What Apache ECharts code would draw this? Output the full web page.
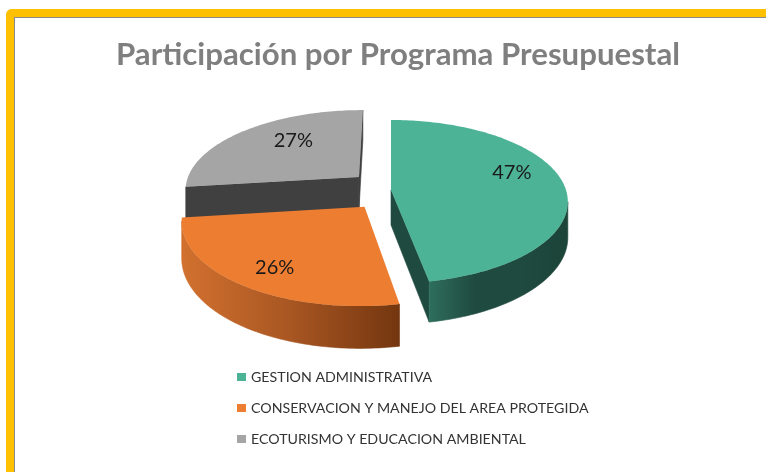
<!DOCTYPE html>
<html>
<head>
<meta charset="utf-8">
<script src="https://cdn.jsdelivr.net/npm/echarts@6/dist/echarts.min.js"></script>
<style>
body{margin:0;background:#fff;}
.frame{position:absolute;left:6px;top:9px;width:760px;height:463px;box-sizing:border-box;
  border-left:8px solid #ffc000;border-top:8px solid #ffc000;border-top-left-radius:6px;}
.frame .line{position:absolute;left:0;top:0;right:0;bottom:0;border-left:1px solid #8a8a8a;border-top:1px solid #8a8a8a;}
#chart{position:absolute;left:0;top:0;width:766px;height:472px;}
</style>
</head>
<body>
<div class="frame"><div class="line"></div></div>
<div id="chart"></div>
<script>
// datos
const categories = ['GESTION ADMINISTRATIVA', 'CONSERVACION Y MANEJO DEL AREA PROTEGIDA', 'ECOTURISMO Y EDUCACION AMBIENTAL'];
const shares = [47, 26, 27];

// estilo de las porciones
const topColors = ['#4cb396', '#ed7d31', '#a5a5a5'];
const cutColors = ['#1f4a3f', '#8a4418', '#404040'];
const rimColors = [['#2e6e5c', '#1f4a3f', '#1f4a3f', '#1c4439'], ['#d2712f', '#a85622', '#74360f'], ['#5a5a5a', '#454545', '#3a3a3a']];
const explode = [0, 0.25, 0.25];
const labelPos = [[0.7, -12], [0.75, 4], [0.55, -10]];
const zOrder = [2, 3, 1];
const view = {cx: 391, cy: 190, rx: 175, ry: 80, dist: 7, depth: 35};

const total = shares.reduce((a, b) => a + b, 0);

function proj(X, Z, d) {
    let s = view.dist / (view.dist - Z);
    return [view.cx + view.rx * X * s, view.cy + (view.ry * Z + view.depth * d) * s];
}
function area(pts) {
    let s = 0;
    for (let k = 0; k < pts.length; k++) {
        let p = pts[k], q = pts[(k + 1) % pts.length];
        s += p[0] * q[1] - q[0] * p[1];
    }
    return s;
}
function grad(stops) {
    return {type: 'linear', x: 0, y: 0, x2: 1, y2: 0,
        colorStops: stops.map((c, k) => ({offset: k / (stops.length - 1), color: c}))};
}

function renderSlice(i) {
    return function (params, api) {
        let before = 0;
        for (let j = 0; j < i; j++) before += shares[j];
        let v = api.value(0);
        let a0 = before / total * Math.PI * 2, a1 = (before + v) / total * Math.PI * 2;
        let mid = (a0 + a1) / 2;
        let ox = explode[i] * Math.sin(mid), oz = -explode[i] * Math.cos(mid);
        let P = (a, r, d) => proj(ox + r * Math.sin(a), oz - r * Math.cos(a), d);
        let children = [];

        // paredes radiales
        let walls = [
            [P(a0, 1, 0), P(a0, 0, 0), P(a0, 0, 1), P(a0, 1, 1)],
            [P(a1, 0, 0), P(a1, 1, 0), P(a1, 1, 1), P(a1, 0, 1)]
        ];
        walls.forEach(w => {
            if (area(w) > 0) children.push({type: 'polygon', shape: {points: w},
                style: {fill: cutColors[i], stroke: cutColors[i], lineWidth: 0.6}});
        });

        // pared exterior (solo la parte visible)
        let n = Math.max(8, Math.ceil((a1 - a0) / 0.02));
        let ang = k => a0 + (a1 - a0) * k / n;
        let runs = [], cur = null;
        for (let k = 0; k < n; k++) {
            let q = [P(ang(k + 1), 1, 0), P(ang(k), 1, 0), P(ang(k), 1, 1), P(ang(k + 1), 1, 1)];
            if (area(q) > 0) {
                if (!cur) { cur = [k, k]; runs.push(cur); } else cur[1] = k;
            } else cur = null;
        }
        runs.forEach(r => {
            let top = [], bot = [];
            for (let k = r[0]; k <= r[1] + 1; k++) { top.push(P(ang(k), 1, 0)); bot.push(P(ang(k), 1, 1)); }
            children.push({type: 'polygon', shape: {points: top.concat(bot.reverse())},
                style: {fill: grad(rimColors[i]), stroke: grad(rimColors[i]), lineWidth: 0.6}});
        });

        // cara superior
        let face = [P(a0, 0, 0)];
        for (let k = 0; k <= n; k++) face.push(P(ang(k), 1, 0));
        children.push({type: 'polygon', shape: {points: face}, style: {fill: topColors[i]}});

        // etiqueta
        let lp = P(mid, labelPos[i][0], 0);
        children.push({type: 'text', x: lp[0], y: lp[1] + labelPos[i][1],
            style: {text: Math.round(v / total * 100) + '%', fill: '#1a1a1a',
                font: '20px Lato', align: 'center', verticalAlign: 'middle'}});

        return {type: 'group', children: children};
    };
}

let chart = echarts.init(document.getElementById('chart'));
chart.setOption({
    animation: false,
    title: {
        text: 'Participación por Programa Presupuestal',
        left: 393, top: 34, textAlign: 'center',
        textStyle: {color: '#7f7f7f', fontFamily: 'Lato', fontWeight: 'bold', fontSize: 31.2}
    },
    legend: {
        data: categories,
        orient: 'vertical',
        left: 237, top: 370, padding: 0,
        itemWidth: 9, itemHeight: 8, itemGap: 17,
        icon: 'rect',
        textStyle: {color: '#333', fontFamily: 'Lato', fontSize: 14.2}
    },
    series: categories.map((name, i) => ({
        type: 'custom',
        name: name,
        coordinateSystem: 'none',
        z: zOrder[i],
        silent: true,
        itemStyle: {color: topColors[i]},
        data: [[shares[i]]],
        renderItem: renderSlice(i)
    }))
});
</script>
</body>
</html>
